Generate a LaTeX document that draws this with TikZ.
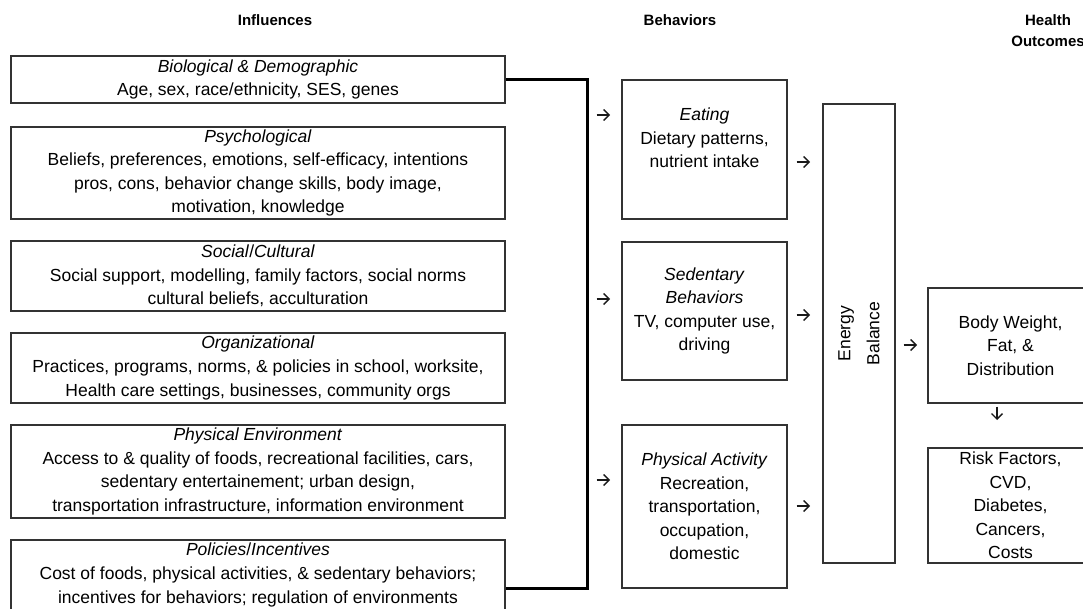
\documentclass[tikz,border=0pt]{standalone}
\usepackage{fontspec}
\setmainfont{Liberation Sans}
\usetikzlibrary{calc,arrows.meta}
\begin{document}
\begin{tikzpicture}[x=1pt,y=-1pt,
  box/.style={draw=black!80, line width=1.3pt, align=center, inner sep=0pt,
    font=\fontsize{17.5}{23.6}\selectfont},
  hdr/.style={font=\fontsize{15}{21}\selectfont\bfseries, align=center},
  arr/.style={-{Straight Barb[length=5.5pt,width=11pt,line width=1.4pt]}, line width=1.4pt, black!90},
  brk/.style={line width=3pt, line join=miter}]
\useasboundingbox (0,0) rectangle (1083,608);
% headers
\node[hdr] (h1) at (275,20) {Influences};
\node[hdr] (h2) at (680,20) {Behaviors};
\node[hdr] (h3) at (1048,31) {Health\\Outcomes};
% influences
\node[box, minimum width=494pt, minimum height=47pt] (b1) at (258,79.5)
  {\textit{Biological \& Demographic}\\Age, sex, race/ethnicity, SES, genes};
\node[box, minimum width=494pt, minimum height=92pt] (b2) at (258,173)
  {\textit{Psychological}\\Beliefs, preferences, emotions, self-efficacy, intentions\\pros, cons, behavior change skills, body image,\\motivation, knowledge};
\node[box, minimum width=494pt, minimum height=70pt] (b3) at (258,276)
  {\textit{Social}/\textit{Cultural}\\Social support, modelling, family factors, social norms\\cultural beliefs, acculturation};
\node[box, minimum width=494pt, minimum height=70pt] (b4) at (258,368)
  {\textit{Organizational}\\Practices, programs, norms, \& policies in school, worksite,\\Health care settings, businesses, community orgs};
\node[box, minimum width=494pt, minimum height=93pt] (b5) at (258,471.5)
  {\textit{Physical Environment}\\Access to \& quality of foods, recreational facilities, cars,\\sedentary entertainement; urban design,\\transportation infrastructure, information environment};
\node[box, minimum width=494pt, minimum height=70pt] (b6) at (258,575)
  {\textit{Policies}/\textit{Incentives}\\Cost of foods, physical activities, \& sedentary behaviors;\\incentives for behaviors; regulation of environments};
% bracket
\coordinate (jt) at (587,79.5);
\coordinate (jb) at (587,588);
\draw[brk] (b1.east) -- (jt) -- (jb) -- (jb -| b6.east);
% behaviors
\node[box, minimum width=165pt, minimum height=139pt] (eat) at (704.5,149.5)
  {\textit{Eating}\\Dietary patterns,\\nutrient intake\\~};
\node[box, minimum width=165pt, minimum height=138pt] (sed) at (704.5,311)
  {\textit{Sedentary}\\\textit{Behaviors}\\TV, computer use,\\driving};
\node[box, minimum width=165pt, minimum height=163pt] (pa) at (704.5,506.5)
  {\textit{Physical Activity}\\Recreation,\\transportation,\\occupation,\\domestic};
% energy balance
\node[box, minimum width=72pt, minimum height=459pt] (eb) at (859,333.5) {};
\node[rotate=90, align=center, inner sep=0pt, font=\fontsize{17.5}{29}\selectfont] (ebt) at (eb.center) {Energy\\Balance};
% outcomes
\node[box, minimum width=165pt, minimum height=115pt] (bw) at (1010.5,345.5)
  {Body Weight,\\Fat, \&\\Distribution};
\node[box, minimum width=165pt, minimum height=115pt] (rf) at (1010.5,505.5)
  {Risk Factors,\\CVD,\\Diabetes,\\Cancers,\\Costs};
% arrow glyphs
\foreach \n/\x/\y in {a1/603/115, a2/603/299, a3/603/480, a4/803/162, a5/803/315, a6/803/506, a7/910/345}{
  \coordinate (\n s) at (\x-6.5,\y);
  \coordinate (\n e) at (\x+7,\y);
  \draw[arr] (\n s) -- (\n e);
}
\coordinate (a8s) at (997,406.5);
\coordinate (a8e) at (997,420);
\draw[arr] (a8s) -- (a8e);
\end{tikzpicture}
\end{document}
